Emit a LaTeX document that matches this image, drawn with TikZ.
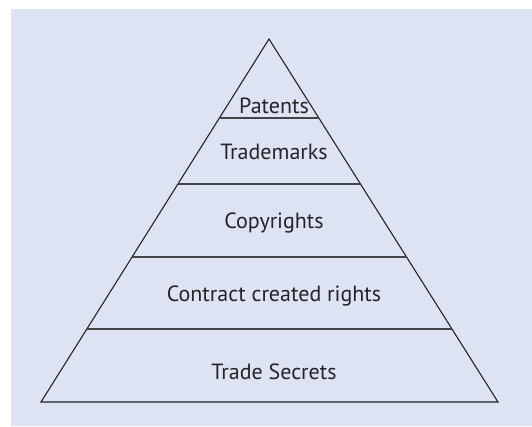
\documentclass[tikz,border=0pt]{standalone}
\usepackage{fontspec}
\setmainfont{PT Sans}
\usetikzlibrary{calc}
\definecolor{panel}{RGB}{222,227,243}
\definecolor{ink}{RGB}{35,35,40}

\begin{document}
\begin{tikzpicture}[x=1pt, y=-1pt, every node/.style={font=\fontsize{22}{26}\selectfont, text=ink}]
  % 定义样式
  \tikzstyle{edge}=[draw=ink, line width=1.1pt, line join=miter]
  \tikzstyle{level}=[draw=ink!85, line width=1.1pt]
  \tikzstyle{tier}=[anchor=base, inner sep=0pt]

  % 背景
  \useasboundingbox (0,0) rectangle (532,426);
  \fill[panel] (11,9) rectangle (532,426);

  % 三角形
  \coordinate (apex) at (269,39);
  \coordinate (left) at (41,402);
  \coordinate (right) at (498,402);
  \draw[edge] (left) -- (apex) -- (right) -- cycle;

  % 分层线
  \foreach \t [count=\i] in {0.2176, 0.3994, 0.6006, 0.7989} {
    \coordinate (l\i) at ($(apex)!\t!(left)$);
    \coordinate (r\i) at ($(apex)!\t!(right)$);
    \draw[level] (l\i) -- (r\i);
  }

  % 文字
  \node (patents) [tier] at (274,113) {Patents};
  \node (trademarks) [tier] at (274,159) {Trademarks};
  \node (copyrights) [tier] at (274,228) {Copyrights};
  \node (contract) [tier] at (274,301) {Contract created rights};
  \node (secrets) [tier] at (274,379) {Trade Secrets};
\end{tikzpicture}
\end{document}
